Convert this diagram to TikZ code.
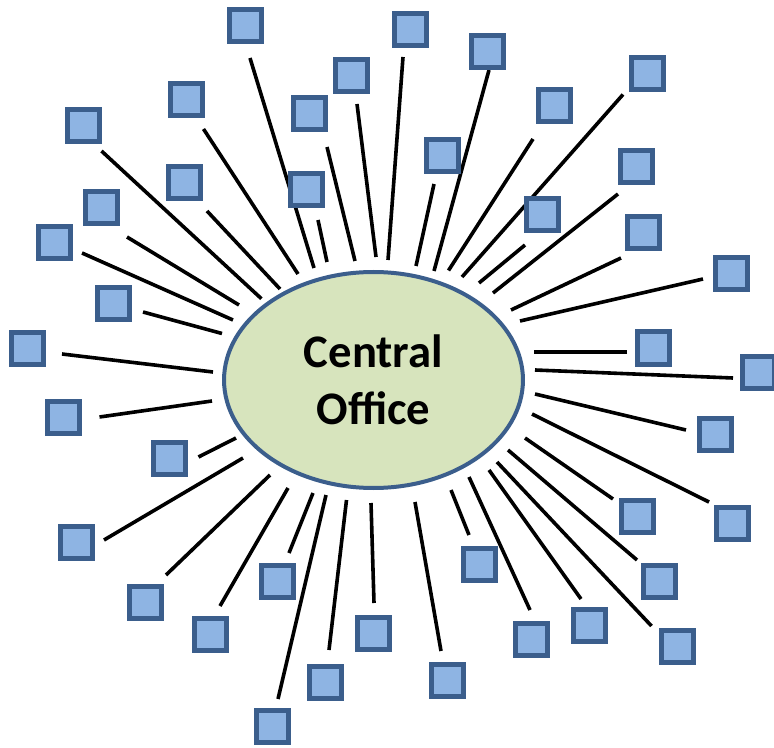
\documentclass[tikz,border=0pt]{standalone}
\usepackage{fontspec}
\newfontfamily\calibri{Carlito}
\definecolor{unitblue}{HTML}{8EB4E3}
\definecolor{edgeblue}{HTML}{3B5E8C}
\definecolor{sage}{HTML}{D7E4BD}
\usetikzlibrary{shapes.geometric, backgrounds}

\begin{document}
\begin{tikzpicture}[x=0.75pt, y=-0.75pt,
  office/.style={ellipse, draw=edgeblue, fill=sage, line width=3pt,
                 minimum width=224.2pt, minimum height=162pt, inner sep=0pt,
                 align=center, font=\calibri\bfseries\fontsize{35}{42.75}\selectfont},
  unit/.style={draw=edgeblue, fill=unitblue, line width=3.75pt,
               minimum size=24pt, inner sep=0pt},
  spoke/.style={line width=2.7pt, black},
]
\useasboundingbox (0,0) rectangle (774,748);
\node[office] (co) at (373.5,380) {Central\\Office};

% terminal centre / outer end of its spoke / inner end of its spoke
\foreach \sx/\sy/\ox/\oy/\ix/\iy [count=\i] in {
    410/29.5/403/57/388/260,        487/51.5/489/70/434/271,
    442/155.5/434/184/416/266,      554/106/533/139/448.5/270.5,
    647.5/73.5/623/94.5/462/277,    542/214.5/525/245/479/283,
    636/166.5/618/194/493/293,      643/232.5/621/258/511/310,
    731.5/273.5/703/279/520/321,    653.5/348/627/352/534/352,
    758/372.5/733/378/535/370,      715.5/434/686/430/535/394,
    732/523.5/709/502/532/414,      637.5/516.5/613/499/525/438,
    659/581.5/637/560/508/450,      677.5/646/651.5/626/497/462,
    589.5/625.5/581/599/489/470,    531.5/639.5/530/610/469/477,
    479/564.5/469/535/451/490,      447/680.5/441/651/415/502,
    373.5/633.5/374/603/371/503,    325.5/682.5/329/650/346.5/500,
    272/726.5/278/699/326/495,      277.5/581.5/289/553/313/493,
    210/634.5/220/606/288/488,      145.5/602/166/575/270/475,
    76.5/542.5/104/540/243/458,     169.5/458.5/198.5/457/236/438,
    63.5/417.5/99.5/417/212/401,    27.5/348.5/62/354/213/372,
    113.5/304/143/312/222/333.5,    54.5/242.5/82/253/233/320,
    101.5/208/127/237/239/305,      83/125.5/101.5/151/261.4/298.7,
    184.5/183/207/211/280/289,      186.5/99.5/203.5/129/298/274,
    245.5/26/250/58/314/268,        306.5/189.5/318/220/327/262,
    309.5/113.5/327/147/355/261,    351/75.5/357/104/376/257}{
  \coordinate (o\i) at (\ox,\oy);
  \coordinate (n\i) at (\ix,\iy);
  % spokes go underneath the terminals
  \begin{pgfonlayer}{background}
    \draw[spoke] (o\i) -- (n\i);
  \end{pgfonlayer}
  \node[unit] (u\i) at (\sx,\sy) {};
}
\end{tikzpicture}
\end{document}
